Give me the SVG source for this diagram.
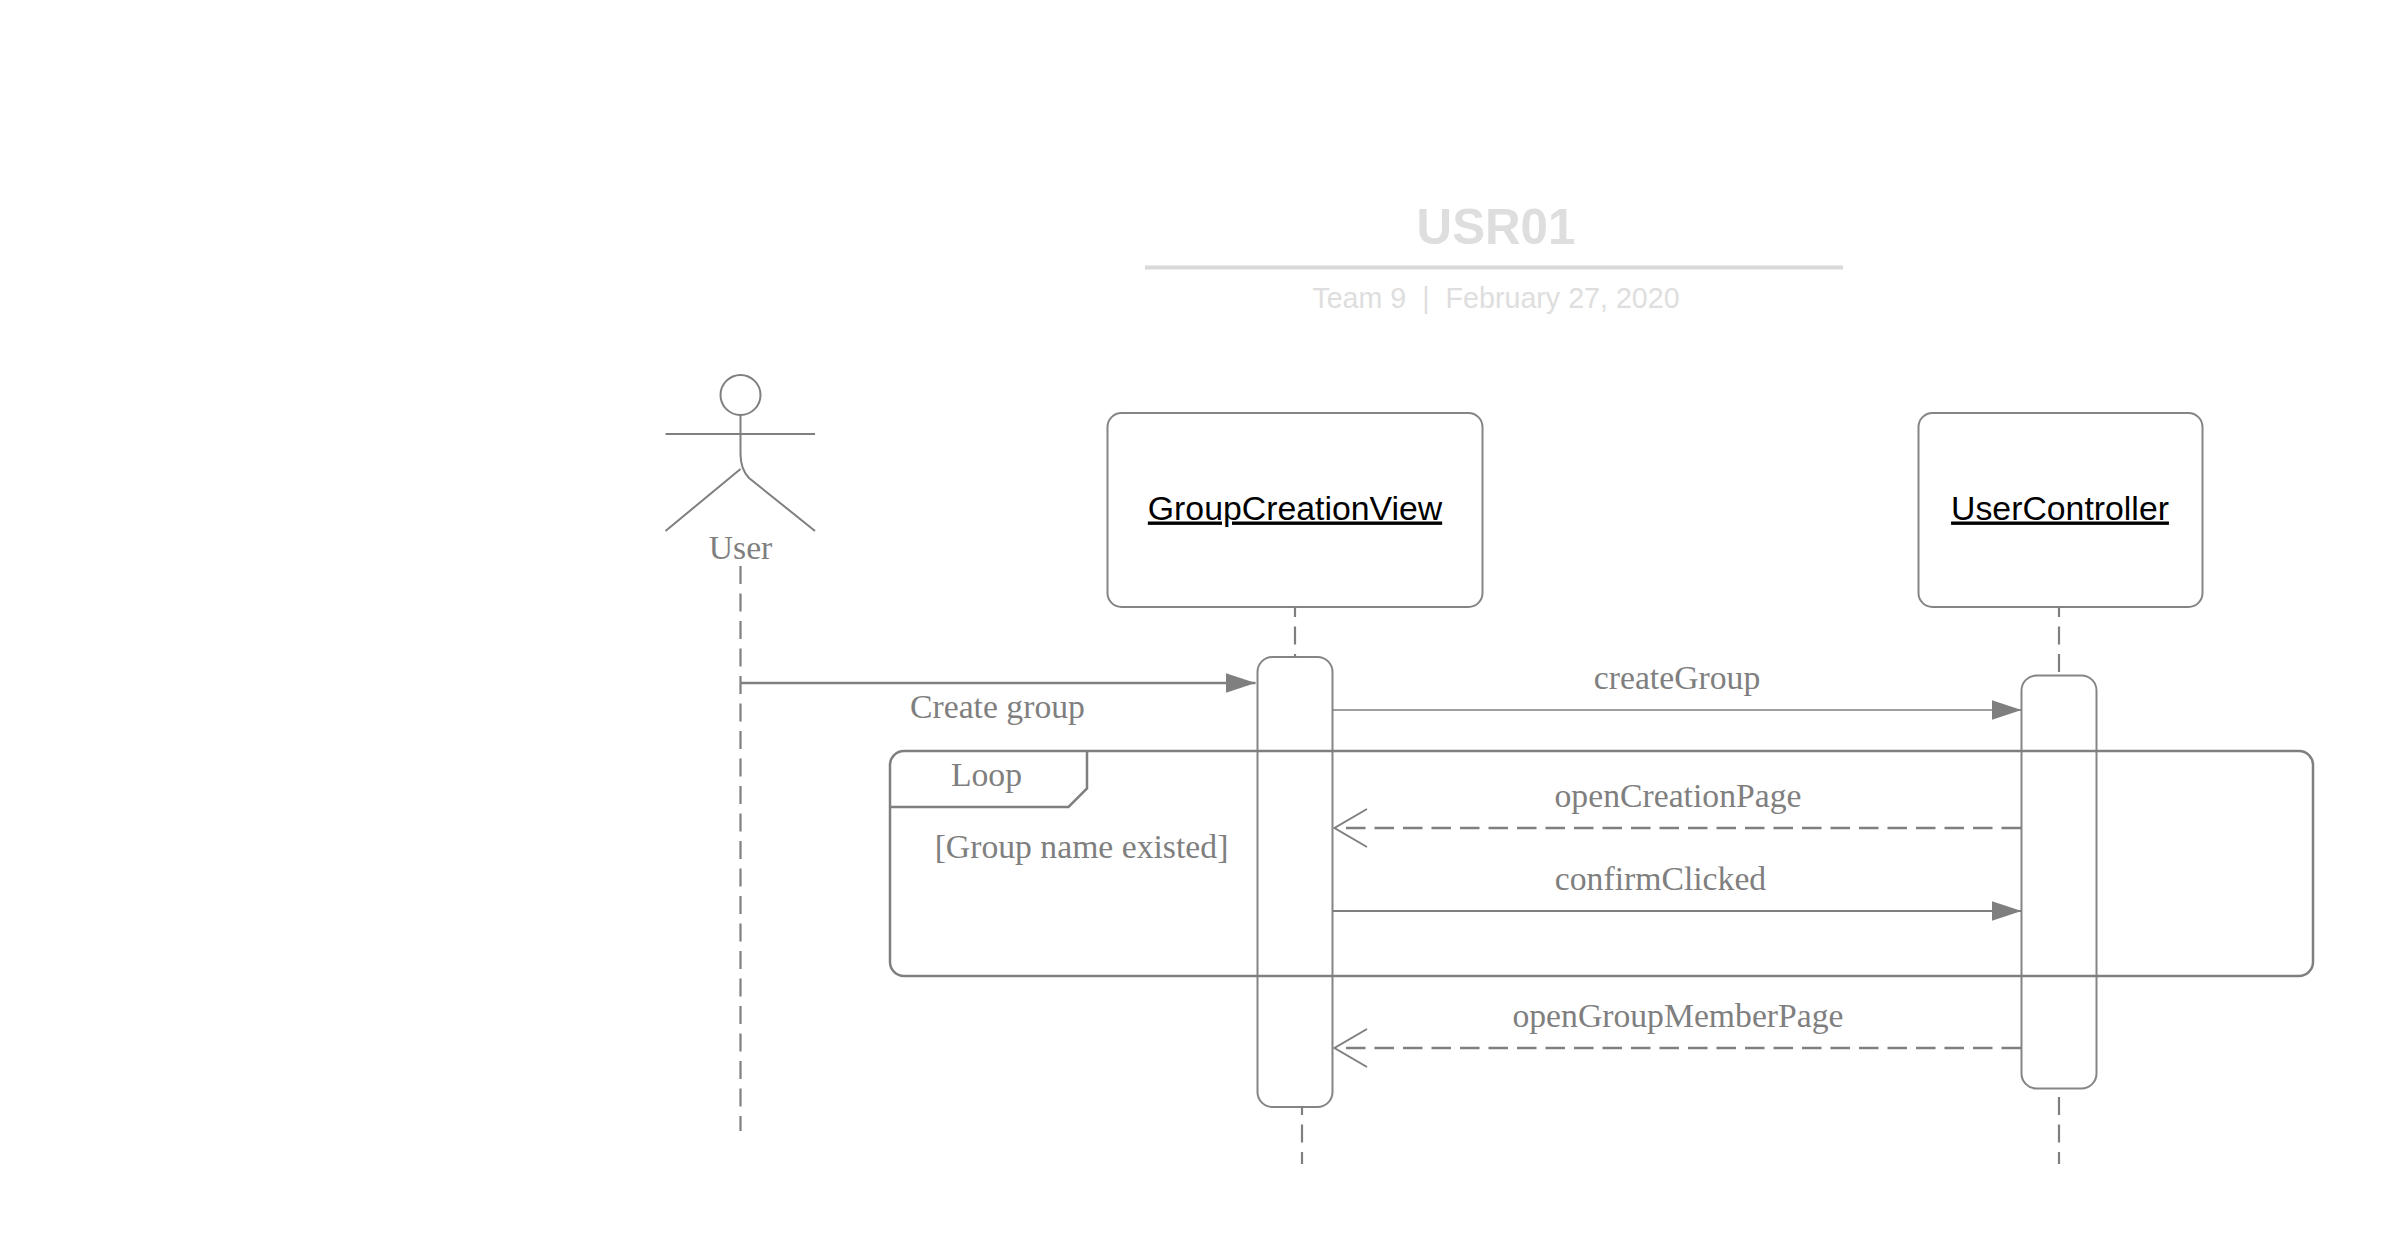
<svg xmlns="http://www.w3.org/2000/svg" width="2389" height="1238" viewBox="0 0 2389 1238">
<style>
.s{fill:none;stroke:#7f7f7f;stroke-width:2}
.d{fill:none;stroke:#7f7f7f;stroke-width:2.500;stroke-dasharray:19.500 9}
.v{fill:none;stroke:#7f7f7f;stroke-width:2.200;stroke-dasharray:18 9.500}
.l{font-family:"Liberation Serif",serif;font-size:33.700px;fill:#7f7f7f;text-anchor:middle}
.n{font-family:"Liberation Sans",sans-serif;font-size:33.800px;fill:#000;text-anchor:middle;text-decoration:underline}
.b{fill:none;stroke:#858585;stroke-width:2}
</style>
<defs>
<marker id="tri" markerUnits="userSpaceOnUse" markerWidth="32" markerHeight="22" refX="30" refY="11" orient="auto"><path d="M0 1L30 11L0 21Z" fill="#7f7f7f"/></marker>
</defs>
<rect width="2389" height="1238" fill="#fff"/>
<g id="title">
<text x="1496" y="244" font-family="Liberation Sans,sans-serif" font-size="49.300" font-weight="700" fill="#dedede" text-anchor="middle">USR01</text>
<rect x="1145" y="265.500" width="698" height="4" fill="#d9d9d9"/>
<text x="1496" y="308" font-family="Liberation Sans,sans-serif" font-size="28.650" fill="#dedede" text-anchor="middle" xml:space="preserve">Team 9  |  February 27, 2020</text>
</g>
<g id="user">
<circle class="s" cx="740.500" cy="395" r="20"/>
<path class="s" d="M740.500 415V454Q740.500 469 749 478L815 531M665.500 434H815M740.500 469L665.500 531"/>
<text class="l" x="740.500" y="558.500">User</text>
</g>
<g id="groupCreationView">
<rect class="b" x="1107.500" y="413" width="375" height="194" rx="14"/>
<text class="n" x="1295" y="519.500">GroupCreationView</text>
</g>
<g id="userController">
<rect class="b" x="1918.500" y="413" width="284" height="194" rx="14"/>
<text class="n" x="2060" y="519.500">UserController</text>
</g>
<g id="activation1"><rect class="b" x="1257.500" y="657" width="75" height="450" rx="15"/></g>
<g id="activation2"><rect class="b" x="2021.500" y="675.500" width="75" height="413" rx="15"/></g>
<g id="loop">
<path class="s" style="stroke-width:2.500" d="M904 751H2299a14 14 0 0 1 14 14V962a14 14 0 0 1-14 14H904a14 14 0 0 1-14-14V765a14 14 0 0 1 14-14M1087 751V788.500L1068.500 807H890"/>
<text class="l" x="986.500" y="786">Loop</text>
<text class="l" x="1081.500" y="857.500">[Group name existed]</text>
</g>
<g id="connectors">
<path class="v" d="M740.500 566V1131"/>
<path class="v" stroke-dashoffset="8" d="M1295 607V657M2059 607V675"/>
<path class="v" stroke-dashoffset="9" d="M1302 1106V1164"/>
<path class="v" d="M2059 1097V1164"/>
<path class="s" style="stroke-width:2.500" d="M740 683H1255.500" marker-end="url(#tri)"/>
<path class="s" style="stroke-width:1.500" d="M1332.500 710H2021.500" marker-end="url(#tri)"/>
<path class="s" d="M1332.500 911H2021.500" marker-end="url(#tri)"/>
<path class="d" d="M2021 828H1339"/>
<path class="s" d="M1367 809L1334.500 828L1367 847"/>
<path class="d" d="M2021 1048H1339"/>
<path class="s" d="M1367 1029L1334.500 1048L1367 1067"/>
<text class="l" x="997.500" y="717.500">Create group</text>
<text class="l" x="1677" y="689">createGroup</text>
<text class="l" x="1678" y="806.500">openCreationPage</text>
<text class="l" x="1660.500" y="889.500">confirmClicked</text>
<text class="l" x="1678" y="1027">openGroupMemberPage</text>
</g>
</svg>
